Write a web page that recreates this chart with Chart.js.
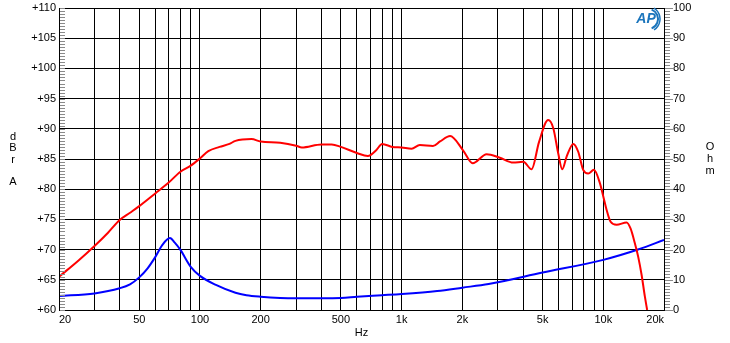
<!DOCTYPE html>
<html>
<head>
<meta charset="utf-8">
<script src="https://cdn.jsdelivr.net/npm/chart.js@4/dist/chart.umd.min.js"></script>
<style>
  html, body { margin: 0; padding: 0; background: #fff; }
  canvas { display: block; }
</style>
</head>
<body>
<canvas id="chart" width="730" height="343"></canvas>
<script>
// SPL response (dBrA)
const splFreq = [20, 25, 30, 35, 40, 45, 50, 60, 70, 80, 90, 100, 110, 125, 140, 150, 180, 200, 250, 300, 320, 400, 450, 500, 600, 680, 750, 800, 900, 1000, 1120, 1230, 1430, 1550, 1740, 2020, 2250, 2640, 3070, 3575, 4010, 4410, 4800, 5330, 5650, 5980, 6260, 6580, 7100, 7510, 7950, 8420, 8980, 9620, 10000, 10380, 10870, 11640, 13050, 13650, 14350, 14900, 15490, 16080, 16500];
const splDb = [65.5, 68.2, 70.6, 72.8, 74.9, 76.1, 77.2, 79.3, 81.1, 82.9, 83.9, 85.1, 86.3, 87.0, 87.5, 88.0, 88.3, 87.9, 87.7, 87.2, 86.9, 87.4, 87.4, 87.0, 86.0, 85.5, 86.5, 87.5, 87.0, 86.9, 86.7, 87.3, 87.15, 87.9, 88.8, 86.4, 84.3, 85.8, 85.2, 84.4, 84.55, 83.3, 87.8, 91.45, 90.1, 85.9, 83.3, 85.4, 87.5, 86.2, 83.2, 82.6, 83.2, 81.0, 78.8, 76.6, 74.6, 74.1, 74.5, 73.5, 71.0, 68.8, 65.8, 62.2, 60.0];

// Impedance (Ohm)
const impFreq = [20, 30, 40, 45, 50, 55, 60, 65, 71, 75, 80, 90, 100, 120, 150, 170, 200, 250, 300, 500, 600, 800, 1000, 1500, 2000, 2700, 5000, 10000, 15000, 20000];
const impOhm = [4.6, 5.5, 7.2, 8.5, 10.8, 13.8, 17.5, 21.5, 23.8, 22.3, 19.9, 14.3, 11.3, 8.3, 5.7, 4.9, 4.4, 4.0, 3.9, 4.0, 4.4, 4.9, 5.3, 6.3, 7.4, 8.6, 12.4, 16.6, 20.1, 23.2];

const xGrid = [20, 30, 40, 50, 60, 70, 80, 90, 100, 200, 300, 400, 500, 600, 700, 800, 900,
  1000, 2000, 3000, 4000, 5000, 6000, 7000, 8000, 9000, 10000, 20000];
const xLabels = { 20: '20', 50: '50', 100: '100', 200: '200', 500: '500', 1000: '1k', 2000: '2k', 5000: '5k', 10000: '10k', 20000: '20k' };

const FONT = 'Liberation Sans, Arial, sans-serif';

// keep the plot box where the reference has it
function fitSize(w, h) {
  return scale => {
    if (w) scale.width = w;
    if (h) scale.height = h;
    scale.paddingTop = 0;
    scale.paddingBottom = 0;
    scale.paddingLeft = 0;
    scale.paddingRight = 0;
  };
}

// frame, minor ticks, side titles, logo
const extras = {
  id: 'extras',
  afterDraw(chart) {
    const ctx = chart.ctx;
    const a = chart.chartArea;
    const yL = chart.scales.y, yR = chart.scales.y1;
    ctx.save();
    ctx.strokeStyle = '#000';
    ctx.lineWidth = 1;
    ctx.strokeRect(a.left + 0.5, a.top + 0.5, a.right - a.left, a.bottom - a.top);

    ctx.strokeStyle = '#8a8a8a';
    ctx.beginPath();
    for (let v = 60; v <= 110; v += 0.5) {
      const p = Math.round(yL.getPixelForValue(v)) + 0.5;
      ctx.moveTo(a.left + 1, p);
      ctx.lineTo(a.left + 6, p);
    }
    for (let v = 0; v <= 100; v += 1) {
      const p = Math.round(yR.getPixelForValue(v)) + 0.5;
      ctx.moveTo(a.right + 1, p);
      ctx.lineTo(a.right + (v % 10 === 0 ? 9 : 6), p);
    }
    ctx.stroke();

    ctx.fillStyle = '#000';
    ctx.font = '11px ' + FONT;
    ctx.textAlign = 'center';
    ctx.textBaseline = 'middle';
    [['d', 137], ['B', 148], ['r', 160], ['A', 182]].forEach(([t, y]) => ctx.fillText(t, 13, y));
    [['O', 147], ['h', 159], ['m', 171]].forEach(([t, y]) => ctx.fillText(t, 710, y));

    // AP logo
    ctx.fillStyle = '#1b75bc';
    ctx.strokeStyle = '#1b75bc';
    ctx.font = 'italic bold 14px ' + FONT;
    ctx.fillText('AP', 646, 19);
    ctx.lineWidth = 2;
    ctx.beginPath();
    ctx.arc(648, 19, 10, -1.2, 1.2);
    ctx.stroke();
    ctx.lineWidth = 1.5;
    ctx.beginPath();
    ctx.arc(647, 19, 13, -1.0, 1.0);
    ctx.stroke();
    ctx.restore();
  }
};

new Chart(document.getElementById('chart'), {
  type: 'line',
  data: {
    datasets: [{
      data: splFreq.map((f, i) => ({ x: f, y: splDb[i] })),
      borderColor: '#ff0000',
      borderWidth: 2,
      pointRadius: 0,
      cubicInterpolationMode: 'monotone',
      yAxisID: 'y'
    }, {
      data: impFreq.map((f, i) => ({ x: f, y: impOhm[i] })),
      borderColor: '#0000ff',
      borderWidth: 2,
      pointRadius: 0,
      cubicInterpolationMode: 'monotone',
      yAxisID: 'y1'
    }]
  },
  options: {
    responsive: false,
    animation: false,
    layout: { padding: { top: 8, left: 0, right: 0, bottom: 0 } },
    plugins: { legend: { display: false }, tooltip: { enabled: false } },
    scales: {
      x: {
        type: 'logarithmic',
        min: 20,
        max: 20000,
        afterBuildTicks: scale => { scale.ticks = xGrid.map(v => ({ value: v })); },
        afterFit: fitSize(0, 33),
        grid: { color: '#000', lineWidth: 1, drawTicks: false },
        border: { color: '#000' },
        ticks: {
          autoSkip: false,
          maxRotation: 0,
          align: 'inner',
          padding: 3,
          color: '#000',
          font: { family: FONT, size: 11 },
          callback: v => xLabels[v] || ''
        },
        title: { display: true, text: 'Hz', color: '#000', font: { family: FONT, size: 11 }, padding: { top: 0, bottom: 3 } }
      },
      y: {
        position: 'left',
        min: 60,
        max: 110,
        afterFit: fitSize(59, 0),
        grid: { color: '#000', lineWidth: 1, drawTicks: false },
        border: { color: '#000' },
        ticks: {
          stepSize: 5,
          padding: 3,
          color: '#000',
          font: { family: FONT, size: 11 },
          callback: v => '+' + v
        }
      },
      y1: {
        position: 'right',
        min: 0,
        max: 100,
        afterFit: fitSize(66, 0),
        grid: { drawOnChartArea: false, drawTicks: false },
        border: { color: '#000' },
        ticks: {
          stepSize: 10,
          padding: 9,
          color: '#000',
          font: { family: FONT, size: 11 }
        }
      }
    }
  },
  plugins: [extras]
});
</script>
</body>
</html>
